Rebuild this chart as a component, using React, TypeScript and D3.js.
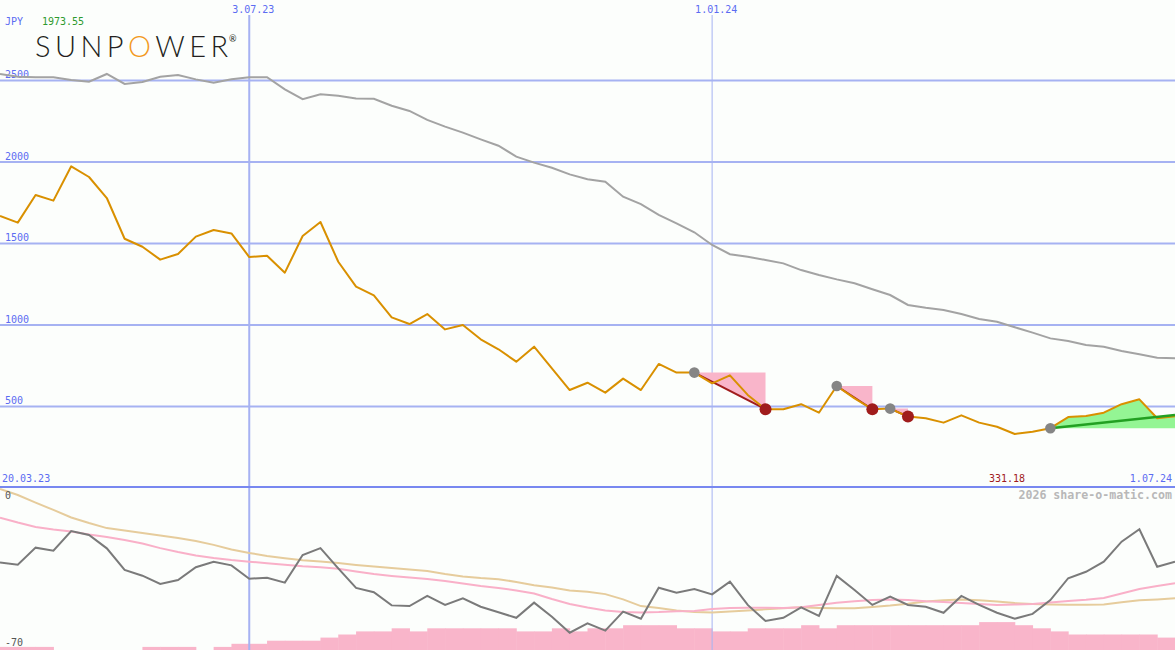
import React from "react";
import * as d3 from "d3";

// ---------- data (weekly, Mondays 27.03.23 .. 1.07.24) ----------
const startDate = new Date(2023, 2, 27);
const endDate = new Date(2024, 6, 2);
const weeks: Date[] = d3.timeMonday.range(startDate, endDate);

const price = [1669, 1628, 1798, 1763, 1973.55, 1908, 1779, 1529, 1480, 1401, 1436, 1542, 1583, 1562, 1417, 1425, 1321, 1546, 1632, 1388, 1235, 1182, 1047, 1006, 1067, 973, 1000, 912, 851, 775, 867, 734, 601, 646, 585, 671, 601, 761, 708, 708, 642, 691, 571, 483, 483, 514, 462, 626, 550, 483, 487, 438, 428, 401, 446, 401, 376, 331.18, 345, 367, 435, 442, 462, 514, 544, 428, 440];

const avgLong = [2540, 2523, 2520, 2520, 2503, 2493, 2540, 2479, 2491, 2523, 2534, 2507, 2487, 2507, 2520, 2520, 2446, 2385, 2415, 2407, 2390, 2388, 2345, 2313, 2258, 2217, 2180, 2139, 2100, 2033, 1996, 1965, 1924, 1894, 1879, 1787, 1742, 1675, 1624, 1569, 1491, 1434, 1419, 1399, 1378, 1337, 1307, 1280, 1256, 1219, 1184, 1123, 1106, 1092, 1067, 1037, 1020, 986, 953, 918, 902, 877, 867, 840, 820, 799, 796];

const oscFast = [-32.0, -32.9, -25.5, -26.8, -18.3, -20.0, -25.8, -35.2, -37.7, -41.3, -39.6, -34.0, -31.6, -33.2, -39.0, -38.6, -40.7, -28.7, -25.7, -34.5, -43.0, -44.9, -50.6, -50.9, -46.5, -50.4, -47.5, -51.2, -53.6, -56.0, -49.4, -55.5, -62.5, -58.4, -61.6, -53.3, -56.4, -42.9, -45.1, -43.5, -45.8, -40.3, -50.4, -57.4, -56.0, -51.5, -55.2, -37.8, -43.9, -50.4, -46.8, -50.4, -51.2, -53.8, -46.5, -50.4, -53.8, -56.4, -54.3, -48.3, -38.8, -36.0, -31.6, -22.9, -17.5, -33.8, -31.6];

const oscMid = [-12.5, -14.6, -16.5, -17.6, -18.5, -19.8, -20.9, -22.2, -23.7, -25.7, -27.4, -28.9, -30.0, -30.9, -31.6, -32.3, -32.9, -33.6, -34.0, -34.7, -35.9, -37.0, -37.8, -38.5, -39.1, -40.0, -41.1, -42.2, -43.0, -44.1, -45.4, -47.8, -50.0, -51.5, -52.8, -53.5, -53.7, -53.5, -53.1, -53.0, -52.2, -51.7, -51.6, -51.6, -51.7, -51.4, -50.4, -49.5, -48.8, -48.3, -48.0, -48.3, -48.8, -49.1, -49.6, -50.0, -50.4, -50.2, -50.0, -49.4, -48.7, -48.2, -47.4, -45.4, -43.5, -42.2, -41.0];

const oscSlow = [0, -2.6, -5.9, -9.1, -12.4, -14.8, -17.0, -18.0, -19.1, -20.2, -21.3, -22.6, -24.3, -26.3, -27.8, -29.1, -30.1, -31.0, -31.5, -32.2, -33.0, -33.7, -34.3, -35.0, -35.7, -37.0, -38.0, -38.7, -39.2, -40.4, -41.8, -42.8, -44.1, -44.7, -45.7, -48.0, -50.9, -51.7, -52.8, -53.5, -53.7, -53.3, -52.8, -52.3, -51.8, -51.4, -51.7, -51.9, -51.9, -51.3, -50.7, -49.9, -48.9, -48.4, -48.0, -48.4, -48.9, -49.6, -50.0, -50.2, -50.3, -50.3, -50.2, -49.2, -48.4, -48.0, -47.5];

const volumeLevel = [1, 1, 1, 0, 0, 0, 0, 0, 1, 1, 1, 0, 1, 2, 2, 3, 3, 3, 4, 5, 6, 6, 7, 6, 7, 7, 7, 7, 7, 6, 6, 7, 6, 7, 7, 8, 8, 8, 7, 7, 6, 6, 7, 7, 7, 8, 7, 8, 8, 8, 8, 8, 8, 8, 8, 9, 9, 8, 7, 6, 5, 5, 5, 5, 5, 4, 4];

// trade signals (indices into weeks)
const lossTrades = [
  { entry: 39, exit: 43 },
  { entry: 47, exit: 49 },
  { entry: 50, exit: 51 },
];
const openTrade = { entry: 59, last: 66, trendEnd: 448 };

const priceTicks = [500, 1000, 1500, 2000, 2500];
const dateMarks = [
  { date: new Date(2023, 6, 3), label: "3.07.23", w: 2 },
  { date: new Date(2024, 0, 1), label: "1.01.24", w: 1 },
];
const firstDateLabel = "20.03.23";
const lastDateLabel = "1.07.24";
const currency = "JPY";
const maxLabel = "1973.55";
const minLabel = "331.18";

// ---------- layout ----------
const W = 1175;
const H = 650;
const MONO = "'DejaVu Sans Mono', monospace";
const BLUE = "#5b6cf2";
const GRID = "#a6b2f2";

export default function App() {
  const x = d3.scaleTime().domain([weeks[0], weeks[weeks.length - 1]]).range([0, W]);
  const y = d3.scaleLinear().domain([0, 2500]).range([488, 80.5]);
  const yo = d3.scaleLinear().domain([-70, 0]).range([650, 489]);
  const yv = d3.scaleLinear().domain([0, 10]).range([650, 619]);

  const xi = (i: number) => x(weeks[i]);
  const priceLine = d3.line<number>().x((_, i) => xi(i)).y((d) => y(d));
  const oscLine = d3.line<number>().x((_, i) => xi(i)).y((d) => yo(d));

  const barW = xi(1) - xi(0);

  // open trade green area: between entry level and price line
  const e = openTrade.entry;
  const areaIdx = d3.range(e, openTrade.last + 1);
  const greenArea = d3
    .area<number>()
    .x((i) => xi(i))
    .y0(() => y(price[e]))
    .y1((i) => y(price[i]))(areaIdx);

  return (
    <div style={{ position: "absolute", left: 0, top: 0 }}>
      <svg width={W} height={H} style={{ display: "block" }} fontFamily={MONO}>
        <rect x={0} y={0} width={W} height={H} fill="#fcfefc" />

        {/* volume-like bars */}
        {volumeLevel.map((v, i) =>
          v > 0 ? (
            <rect key={"b" + i} x={xi(i)} y={yv(v)} width={barW + 0.5} height={yv(0) - yv(v)} fill="#f9b5ca" />
          ) : null
        )}

        {/* horizontal grid */}
        {priceTicks.map((t) => (
          <g key={"g" + t}>
            <line x1={0} x2={W} y1={y(t)} y2={y(t)} stroke={GRID} strokeWidth={2} />
            <text x={5} y={y(t) - 2.5} fontSize={10} fill={BLUE}>{t}</text>
          </g>
        ))}

        {/* vertical date lines */}
        {dateMarks.map((m) => (
          <g key={m.label}>
            <line x1={x(m.date)} x2={x(m.date)} y1={15} y2={H} stroke={GRID} strokeWidth={m.w} />
            <text x={x(m.date) - 17} y={12.5} fontSize={10} fill={BLUE}>{m.label}</text>
          </g>
        ))}

        {/* axis separator */}
        <line x1={0} x2={W} y1={487} y2={487} stroke="#7888f0" strokeWidth={2} />

        {/* long average */}
        <path d={priceLine(avgLong) || ""} fill="none" stroke="#a3a3a3" strokeWidth={2} />

        {/* losing trades */}
        {lossTrades.map((t, k) => {
          const x0 = xi(t.entry), x1 = xi(t.exit);
          const y0 = y(price[t.entry]), y1 = y(price[t.exit]);
          return (
            <g key={"l" + k}>
              <polygon points={`${x0},${y0} ${x1},${y0} ${x1},${y1}`} fill="#f9b5ca" />
              <line x1={x0} y1={y0} x2={x1} y2={y1} stroke="#a01c1c" strokeWidth={2} />
            </g>
          );
        })}

        {/* open trade */}
        <path d={greenArea || ""} fill="#94f594" />

        {/* price */}
        <path d={priceLine(price) || ""} fill="none" stroke="#d99000" strokeWidth={2} strokeLinejoin="round" />

        <line
          x1={xi(e)}
          y1={y(price[e])}
          x2={xi(openTrade.last)}
          y2={y(openTrade.trendEnd)}
          stroke="#22a022"
          strokeWidth={2.5}
        />

        {/* markers */}
        {lossTrades.map((t, k) => (
          <g key={"m" + k}>
            <circle cx={xi(t.entry)} cy={y(price[t.entry])} r={5.3} fill="#858585" />
            <circle cx={xi(t.exit)} cy={y(price[t.exit])} r={6} fill="#a01c1c" />
          </g>
        ))}
        <circle cx={xi(e)} cy={y(price[e])} r={5.3} fill="#858585" />

        {/* oscillator panel */}
        <path d={oscLine(oscSlow) || ""} fill="none" stroke="#e6cc9c" strokeWidth={2} />
        <path d={oscLine(oscMid) || ""} fill="none" stroke="#f9b0c8" strokeWidth={2} />
        <path d={oscLine(oscFast) || ""} fill="none" stroke="#7a7a7a" strokeWidth={2} />
        <text x={5} y={499} fontSize={10} fill="#555">0</text>
        <text x={5} y={646} fontSize={10} fill="#555">-70</text>

        {/* header texts */}
        <text x={5} y={25} fontSize={10} fill={BLUE}>{currency}</text>
        <text x={42} y={25} fontSize={10} fill="#2e9a2e">{maxLabel}</text>

        {/* logo */}
        <text
          x={35}
          y={57}
          fontFamily="Lato, 'Open Sans', sans-serif"
          fontWeight={300}
          fontSize={29}
          fill="#231f20"
          textLength={193}
          lengthAdjust="spacing"
        >
          SUNP<tspan fill="#f39a1e">O</tspan>WER
        </text>
        <text x={229} y={42} fontFamily="Lato, sans-serif" fontSize={9} fill="#231f20">®</text>

        {/* bottom labels */}
        <text x={2} y={482} fontSize={10} fill={BLUE}>{firstDateLabel}</text>
        <text x={989} y={482} fontSize={10} fill="#a01c1c">{minLabel}</text>
        <text x={1172} y={482} fontSize={10} fill={BLUE} textAnchor="end">{lastDateLabel}</text>
        <text x={1172} y={499} fontSize={11.6} fontWeight="bold" fill="#b8b8b8" textAnchor="end">
          2026 share-o-matic.com
        </text>
      </svg>
    </div>
  );
}
